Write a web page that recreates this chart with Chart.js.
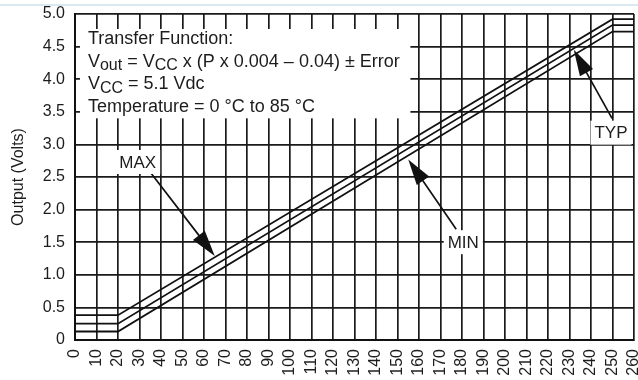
<!DOCTYPE html>
<html>
<head>
<meta charset="utf-8">
<script src="https://cdn.jsdelivr.net/npm/chart.js@4.4.1/dist/chart.umd.min.js"></script>
<style>
  html, body { margin: 0; padding: 0; background: #fff; }
  #wrap { position: relative; width: 638px; height: 380px; }
  #topline { position: absolute; left: 0; top: 4px; width: 638px; height: 2px; background: #d9e9ef; }
</style>
</head>
<body>
<div id="wrap">
  <canvas id="chart" width="638" height="380"></canvas>
  <div id="topline"></div>
</div>
<script>
// Pressure points (x) and output voltage for the three curves
var pressure = [0, 20, 250, 260];
var outMax = [0.38, 0.38, 4.92, 4.92];
var outTyp = [0.25, 0.25, 4.83, 4.83];
var outMin = [0.13, 0.13, 4.73, 4.73];

// Tick values / labels
var xTicks = [0, 10, 20, 30, 40, 50, 60, 70, 80, 90, 100, 110, 120, 130, 140, 150, 160, 170, 180, 190, 200, 210, 220, 230, 240, 250, 260];
var yTickValues = [0, 0.5, 1.0, 1.5, 2.0, 2.5, 3.0, 3.5, 4.0, 4.5, 5.0];
var yTickLabels = ['0', '0.5', '1.0', '1.5', '2.0', '2.5', '3.0', '3.5', '4.0', '4.5', '5.0'];

var FONT = '"Liberation Sans", Arial, sans-serif';
var textColor = '#1c1c1c';
var lineColor = '#111';

// Transfer function note (text lines, segments flagged as subscript)
var boxLines = [
  [{ t: 'Transfer Function:' }],
  [{ t: 'V' }, { t: 'out', sub: true }, { t: ' = V' }, { t: 'CC', sub: true }, { t: ' x (P x 0.004 \u2013 0.04) \u00b1 Error' }],
  [{ t: 'V' }, { t: 'CC', sub: true }, { t: ' = 5.1 Vdc' }],
  [{ t: 'Temperature = 0 \u00b0C to 85 \u00b0C' }]
];
var boxArea = [[2.3, 4.77], [156, 3.40]]; // in axis units

// Curve labels with arrows, in axis units
var notes = [
  { text: 'MAX', at: [29.2, 2.73], from: [35.3, 2.56], to: [65, 1.29] },
  { text: 'MIN', at: [180.6, 1.50], from: [177.3, 1.70], to: [155, 2.77] },
  { text: 'TYP', at: [249.3, 3.18], from: [249.8, 3.40], to: [232, 4.45] }
];

function toPx(chart, p) {
  return [chart.scales.x.getPixelForValue(p[0]), chart.scales.y.getPixelForValue(p[1])];
}

var notePlugin = {
  id: 'notes',
  afterDraw: function (chart) {
    var ctx = chart.ctx;
    ctx.save();

    // white box with the transfer function
    var a = toPx(chart, boxArea[0]), b = toPx(chart, boxArea[1]);
    ctx.fillStyle = '#fff';
    ctx.fillRect(a[0], a[1], b[0] - a[0], b[1] - a[1]);
    ctx.fillStyle = textColor;
    ctx.textBaseline = 'alphabetic';
    ctx.textAlign = 'left';
    boxLines.forEach(function (line, i) {
      var xx = a[0] + 8, yy = a[1] + 15 + i * 22.7;
      line.forEach(function (seg) {
        ctx.font = (seg.sub ? '16px ' : '18px ') + FONT;
        ctx.fillText(seg.t, xx, yy + (seg.sub ? 3.5 : 0));
        xx += ctx.measureText(seg.t).width;
      });
    });

    // arrows
    ctx.strokeStyle = lineColor;
    ctx.fillStyle = lineColor;
    ctx.lineWidth = 1.7;
    notes.forEach(function (n) {
      var s = toPx(chart, n.from), t = toPx(chart, n.to);
      var dx = t[0] - s[0], dy = t[1] - s[1];
      var len = Math.sqrt(dx * dx + dy * dy);
      var ux = dx / len, uy = dy / len;
      var head = 26, half = 7.5;
      var bx = t[0] - ux * head, by = t[1] - uy * head;
      ctx.beginPath();
      ctx.moveTo(s[0], s[1]);
      ctx.lineTo(bx + ux * 2, by + uy * 2);
      ctx.stroke();
      ctx.beginPath();
      ctx.moveTo(t[0], t[1]);
      ctx.lineTo(bx - uy * half, by + ux * half);
      ctx.lineTo(bx + uy * half, by - ux * half);
      ctx.closePath();
      ctx.fill();
    });

    // label boxes
    ctx.font = '17px ' + FONT;
    ctx.textAlign = 'center';
    ctx.textBaseline = 'middle';
    notes.forEach(function (n) {
      var c = toPx(chart, n.at);
      var w = ctx.measureText(n.text).width + 8, h = 24;
      ctx.fillStyle = '#fff';
      ctx.fillRect(c[0] - w / 2, c[1] - h / 2, w, h);
      ctx.fillStyle = textColor;
      ctx.fillText(n.text, c[0], c[1] + 1);
    });
    ctx.restore();
  }
};

function series(ys) {
  return pressure.map(function (p, i) { return { x: p, y: ys[i] }; });
}

Chart.defaults.font.family = FONT;

var ctx = document.getElementById('chart').getContext('2d');
var chart = new Chart(ctx, {
  type: 'line',
  data: {
    datasets: [
      { label: 'MAX', data: series(outMax) },
      { label: 'TYP', data: series(outTyp) },
      { label: 'MIN', data: series(outMin) }
    ].map(function (d) {
      d.borderColor = lineColor;
      d.borderWidth = 1.8;
      d.pointRadius = 0;
      d.tension = 0;
      d.fill = false;
      return d;
    })
  },
  options: {
    responsive: false,
    animation: false,
    devicePixelRatio: 1,
    layout: { padding: { top: 14, right: 4, left: 0, bottom: 0 } },
    plugins: { legend: { display: false }, tooltip: { enabled: false } },
    scales: {
      x: {
        type: 'linear',
        min: 0,
        max: 260,
        afterBuildTicks: function (s) { s.ticks = xTicks.map(function (v) { return { value: v }; }); },
        afterFit: function (s) { s.height = 40; s.paddingLeft = 0; s.paddingRight = 0; },
        grid: { color: '#1a1a1a', lineWidth: 1.7, drawTicks: false },
        border: { color: '#111', width: 2 },
        ticks: {
          autoSkip: false, minRotation: 90, maxRotation: 90, padding: 9,
          color: textColor, font: { size: 16 },
          callback: function (v) { return String(v); }
        }
      },
      y: {
        type: 'linear',
        min: 0,
        max: 5,
        afterBuildTicks: function (s) { s.ticks = yTickValues.map(function (v) { return { value: v }; }); },
        afterFit: function (s) { s.width = 75; s.paddingTop = 0; s.paddingBottom = 0; },
        grid: { color: '#1a1a1a', lineWidth: 1.7, drawTicks: false },
        border: { color: '#111', width: 2 },
        ticks: {
          padding: 10, color: textColor, font: { size: 16 },
          callback: function (v, i) { return yTickLabels[i]; }
        },
        title: { display: true, text: 'Output (Volts)', color: textColor, font: { size: 16 }, padding: { top: 9, bottom: 0 } }
      }
    }
  },
  plugins: [notePlugin]
});
</script>
</body>
</html>
